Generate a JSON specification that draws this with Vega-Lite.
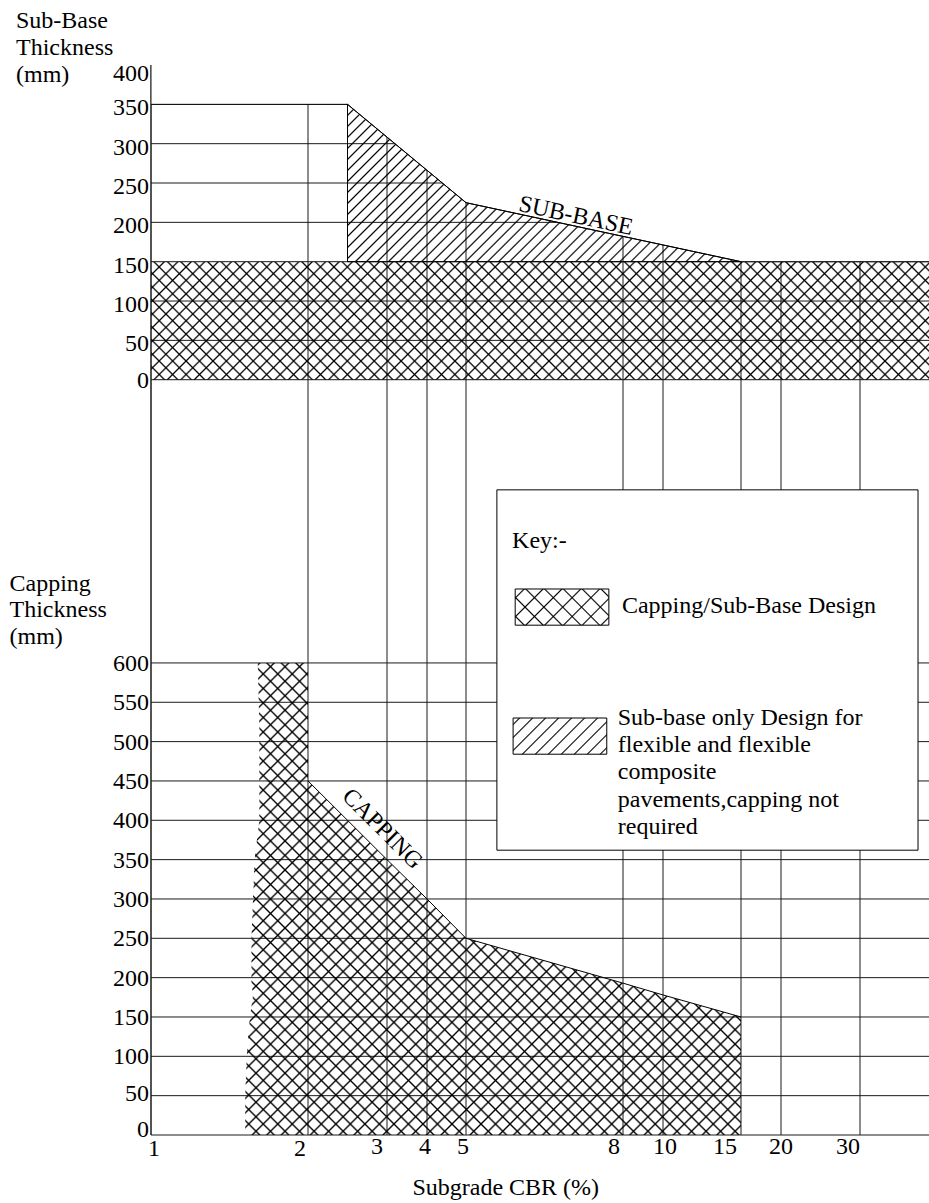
{
"$schema":"https://vega.github.io/schema/vega-lite/v6.json",
"width":778,"height":1070,
"autosize":{"type":"none"},
"padding":{"left":151,"top":65,"right":0,"bottom":68},
"background":"white",
"config":{
"view":{"stroke":null},
"font":"Liberation Serif",
"text":{"font":"Liberation Serif","fontSize":24,"color":"black"},
"axis":{"disable":true}
},
"datasets":{
"cbr_ticks":[{"cbr":1},{"cbr":2},{"cbr":3},{"cbr":4},{"cbr":5},{"cbr":8},{"cbr":10},{"cbr":15},{"cbr":20},{"cbr":30}],
"subbase_ticks":[{"mm":0},{"mm":50},{"mm":100},{"mm":150},{"mm":200},{"mm":250},{"mm":300},{"mm":350},{"mm":400}],
"capping_ticks":[{"mm":0},{"mm":50},{"mm":100},{"mm":150},{"mm":200},{"mm":250},{"mm":300},{"mm":350},{"mm":400},{"mm":450},{"mm":500},{"mm":550},{"mm":600}],
"capping_subbase_top":[{"zone":"Capping/Sub-Base Design","cbr":1,"cbr2":40,"mm":0,"mm2":150}],
"subbase_envelope":[{"cbr":1,"mm":350},{"cbr":2.5,"mm":350},{"cbr":5,"mm":225},{"cbr":15,"mm":150},{"cbr":40,"mm":150}],
"capping_zone":[
{"mm":600,"cbr":1.68,"cbr2":2},
{"mm":520,"cbr":1.69,"cbr2":2},
{"mm":450,"cbr":1.69,"cbr2":2},
{"mm":400,"cbr":1.69,"cbr2":2.5},
{"mm":350,"cbr":1.66,"cbr2":3},
{"mm":300,"cbr":1.65,"cbr2":4},
{"mm":250,"cbr":1.64,"cbr2":5},
{"mm":193,"cbr":1.64,"cbr2":8},
{"mm":178,"cbr":1.65,"cbr2":10},
{"mm":150,"cbr":1.63,"cbr2":15},
{"mm":100,"cbr":1.61,"cbr2":15},
{"mm":50,"cbr":1.6,"cbr2":15},
{"mm":0,"cbr":1.6,"cbr2":15}
]
},
"layer":[
{
"layer":[
{"data":{"name":"cbr_ticks"},"mark":{"type":"rule","color":"#1a1a1a","strokeWidth":1},"encoding":{
"x":{"field":"cbr","type":"quantitative","axis":null,"scale":{"type":"linear","domain":[1,2,3,4,5,8,10,15,20,30,40],"range":[0,157,236,276,315,472,512,590,630,709,778],"nice":false,"zero":false}},
"y":{"datum":-960,"axis":null},"y2":{"datum":400}}},
{"data":{"name":"subbase_ticks"},"transform":[{"filter":"datum.mm < 400"}],"mark":{"type":"rule","color":"#1a1a1a","strokeWidth":1},"encoding":{
"y":{"field":"mm","type":"quantitative","axis":null,"scale":{"domain":[-960,400],"nice":false,"zero":false}},
"x":{"datum":1,"axis":null},"x2":{"datum":40}}},
{"data":{"name":"subbase_ticks"},"mark":{"type":"text","font":"Liberation Serif","fontSize":24,"align":"right","baseline":"middle","dx":-2,"dy":{"expr":"datum.mm === 400 ? 9 : datum.mm === 0 ? 1 : 4"}},"encoding":{
"x":{"datum":1,"axis":null},"y":{"field":"mm","type":"quantitative","axis":null},"text":{"field":"mm","type":"quantitative","format":"d"}}},
{"data":{"values":[{}]},"mark":{"type":"text","text":"Sub-Base","font":"Liberation Serif","fontSize":24,"align":"left","baseline":"alphabetic","dx":-135},"encoding":{"x":{"datum":1,"axis":null},"y":{"datum":447,"axis":null}}},
{"data":{"values":[{}]},"mark":{"type":"text","text":"Thickness","font":"Liberation Serif","fontSize":24,"align":"left","baseline":"alphabetic","dx":-135},"encoding":{"x":{"datum":1,"axis":null},"y":{"datum":412.1,"axis":null}}},
{"data":{"values":[{}]},"mark":{"type":"text","text":"(mm)","font":"Liberation Serif","fontSize":24,"align":"left","baseline":"alphabetic","dx":-135},"encoding":{"x":{"datum":1,"axis":null},"y":{"datum":378.4,"axis":null}}},
{"data":{"name":"capping_subbase_top"},"mark":{"type":"rect","strokeWidth":0,"fill":{"gradient":"linear","x1":0,"y1":0,"x2":1.1258,"y2":0.1708,"stops":[
{"offset":0.013,"color":"transparent"},{"offset":0.015,"color":"black"},{"offset":0.017,"color":"transparent"},
{"offset":0.028,"color":"transparent"},{"offset":0.03,"color":"black"},{"offset":0.032,"color":"transparent"},
{"offset":0.043,"color":"transparent"},{"offset":0.045,"color":"black"},{"offset":0.047,"color":"transparent"},
{"offset":0.058,"color":"transparent"},{"offset":0.06,"color":"black"},{"offset":0.062,"color":"transparent"},
{"offset":0.073,"color":"transparent"},{"offset":0.075,"color":"black"},{"offset":0.077,"color":"transparent"},
{"offset":0.088,"color":"transparent"},{"offset":0.09,"color":"black"},{"offset":0.092,"color":"transparent"},
{"offset":0.103,"color":"transparent"},{"offset":0.105,"color":"black"},{"offset":0.107,"color":"transparent"},
{"offset":0.118,"color":"transparent"},{"offset":0.12,"color":"black"},{"offset":0.122,"color":"transparent"},
{"offset":0.133,"color":"transparent"},{"offset":0.135,"color":"black"},{"offset":0.137,"color":"transparent"},
{"offset":0.148,"color":"transparent"},{"offset":0.15,"color":"black"},{"offset":0.152,"color":"transparent"},
{"offset":0.163,"color":"transparent"},{"offset":0.165,"color":"black"},{"offset":0.167,"color":"transparent"},
{"offset":0.178,"color":"transparent"},{"offset":0.18,"color":"black"},{"offset":0.182,"color":"transparent"},
{"offset":0.193,"color":"transparent"},{"offset":0.195,"color":"black"},{"offset":0.197,"color":"transparent"},
{"offset":0.208,"color":"transparent"},{"offset":0.21,"color":"black"},{"offset":0.212,"color":"transparent"},
{"offset":0.223,"color":"transparent"},{"offset":0.225,"color":"black"},{"offset":0.227,"color":"transparent"},
{"offset":0.238,"color":"transparent"},{"offset":0.24,"color":"black"},{"offset":0.242,"color":"transparent"},
{"offset":0.253,"color":"transparent"},{"offset":0.255,"color":"black"},{"offset":0.257,"color":"transparent"},
{"offset":0.268,"color":"transparent"},{"offset":0.27,"color":"black"},{"offset":0.272,"color":"transparent"},
{"offset":0.283,"color":"transparent"},{"offset":0.285,"color":"black"},{"offset":0.287,"color":"transparent"},
{"offset":0.298,"color":"transparent"},{"offset":0.3,"color":"black"},{"offset":0.302,"color":"transparent"},
{"offset":0.313,"color":"transparent"},{"offset":0.315,"color":"black"},{"offset":0.317,"color":"transparent"},
{"offset":0.328,"color":"transparent"},{"offset":0.33,"color":"black"},{"offset":0.332,"color":"transparent"},
{"offset":0.343,"color":"transparent"},{"offset":0.345,"color":"black"},{"offset":0.347,"color":"transparent"},
{"offset":0.358,"color":"transparent"},{"offset":0.36,"color":"black"},{"offset":0.362,"color":"transparent"},
{"offset":0.373,"color":"transparent"},{"offset":0.375,"color":"black"},{"offset":0.377,"color":"transparent"},
{"offset":0.388,"color":"transparent"},{"offset":0.39,"color":"black"},{"offset":0.392,"color":"transparent"},
{"offset":0.403,"color":"transparent"},{"offset":0.405,"color":"black"},{"offset":0.407,"color":"transparent"},
{"offset":0.418,"color":"transparent"},{"offset":0.42,"color":"black"},{"offset":0.422,"color":"transparent"},
{"offset":0.433,"color":"transparent"},{"offset":0.435,"color":"black"},{"offset":0.437,"color":"transparent"},
{"offset":0.448,"color":"transparent"},{"offset":0.45,"color":"black"},{"offset":0.452,"color":"transparent"},
{"offset":0.463,"color":"transparent"},{"offset":0.465,"color":"black"},{"offset":0.467,"color":"transparent"},
{"offset":0.478,"color":"transparent"},{"offset":0.48,"color":"black"},{"offset":0.482,"color":"transparent"},
{"offset":0.493,"color":"transparent"},{"offset":0.495,"color":"black"},{"offset":0.497,"color":"transparent"},
{"offset":0.508,"color":"transparent"},{"offset":0.51,"color":"black"},{"offset":0.512,"color":"transparent"},
{"offset":0.523,"color":"transparent"},{"offset":0.525,"color":"black"},{"offset":0.527,"color":"transparent"},
{"offset":0.538,"color":"transparent"},{"offset":0.54,"color":"black"},{"offset":0.542,"color":"transparent"},
{"offset":0.553,"color":"transparent"},{"offset":0.555,"color":"black"},{"offset":0.557,"color":"transparent"},
{"offset":0.568,"color":"transparent"},{"offset":0.57,"color":"black"},{"offset":0.572,"color":"transparent"},
{"offset":0.583,"color":"transparent"},{"offset":0.585,"color":"black"},{"offset":0.587,"color":"transparent"},
{"offset":0.598,"color":"transparent"},{"offset":0.6,"color":"black"},{"offset":0.602,"color":"transparent"},
{"offset":0.613,"color":"transparent"},{"offset":0.615,"color":"black"},{"offset":0.617,"color":"transparent"},
{"offset":0.628,"color":"transparent"},{"offset":0.63,"color":"black"},{"offset":0.632,"color":"transparent"},
{"offset":0.643,"color":"transparent"},{"offset":0.645,"color":"black"},{"offset":0.647,"color":"transparent"},
{"offset":0.658,"color":"transparent"},{"offset":0.66,"color":"black"},{"offset":0.662,"color":"transparent"},
{"offset":0.673,"color":"transparent"},{"offset":0.675,"color":"black"},{"offset":0.677,"color":"transparent"},
{"offset":0.688,"color":"transparent"},{"offset":0.69,"color":"black"},{"offset":0.692,"color":"transparent"},
{"offset":0.703,"color":"transparent"},{"offset":0.705,"color":"black"},{"offset":0.707,"color":"transparent"},
{"offset":0.718,"color":"transparent"},{"offset":0.72,"color":"black"},{"offset":0.722,"color":"transparent"},
{"offset":0.733,"color":"transparent"},{"offset":0.735,"color":"black"},{"offset":0.737,"color":"transparent"},
{"offset":0.748,"color":"transparent"},{"offset":0.75,"color":"black"},{"offset":0.752,"color":"transparent"},
{"offset":0.763,"color":"transparent"},{"offset":0.765,"color":"black"},{"offset":0.767,"color":"transparent"},
{"offset":0.778,"color":"transparent"},{"offset":0.78,"color":"black"},{"offset":0.782,"color":"transparent"},
{"offset":0.793,"color":"transparent"},{"offset":0.795,"color":"black"},{"offset":0.797,"color":"transparent"},
{"offset":0.808,"color":"transparent"},{"offset":0.81,"color":"black"},{"offset":0.812,"color":"transparent"},
{"offset":0.823,"color":"transparent"},{"offset":0.825,"color":"black"},{"offset":0.827,"color":"transparent"},
{"offset":0.838,"color":"transparent"},{"offset":0.84,"color":"black"},{"offset":0.842,"color":"transparent"},
{"offset":0.853,"color":"transparent"},{"offset":0.855,"color":"black"},{"offset":0.857,"color":"transparent"},
{"offset":0.868,"color":"transparent"},{"offset":0.87,"color":"black"},{"offset":0.872,"color":"transparent"},
{"offset":0.883,"color":"transparent"},{"offset":0.885,"color":"black"},{"offset":0.887,"color":"transparent"},
{"offset":0.898,"color":"transparent"},{"offset":0.9,"color":"black"},{"offset":0.902,"color":"transparent"},
{"offset":0.913,"color":"transparent"},{"offset":0.915,"color":"black"},{"offset":0.917,"color":"transparent"},
{"offset":0.928,"color":"transparent"},{"offset":0.93,"color":"black"},{"offset":0.932,"color":"transparent"},
{"offset":0.943,"color":"transparent"},{"offset":0.945,"color":"black"},{"offset":0.947,"color":"transparent"},
{"offset":0.958,"color":"transparent"},{"offset":0.96,"color":"black"},{"offset":0.962,"color":"transparent"},
{"offset":0.973,"color":"transparent"},{"offset":0.975,"color":"black"},{"offset":0.977,"color":"transparent"},
{"offset":0.988,"color":"transparent"},{"offset":0.99,"color":"black"},{"offset":0.992,"color":"transparent"}
]}},"encoding":{"x":{"field":"cbr","type":"quantitative","axis":null},"x2":{"field":"cbr2"},"y":{"field":"mm","type":"quantitative","axis":null},"y2":{"field":"mm2"}}},
{"data":{"name":"capping_subbase_top"},"mark":{"type":"rect","strokeWidth":0,"fill":{"gradient":"linear","x1":0,"y1":1,"x2":1.1258,"y2":0.8292,"stops":[
{"offset":0.013,"color":"transparent"},{"offset":0.015,"color":"black"},{"offset":0.017,"color":"transparent"},
{"offset":0.028,"color":"transparent"},{"offset":0.03,"color":"black"},{"offset":0.032,"color":"transparent"},
{"offset":0.043,"color":"transparent"},{"offset":0.045,"color":"black"},{"offset":0.047,"color":"transparent"},
{"offset":0.058,"color":"transparent"},{"offset":0.06,"color":"black"},{"offset":0.062,"color":"transparent"},
{"offset":0.073,"color":"transparent"},{"offset":0.075,"color":"black"},{"offset":0.077,"color":"transparent"},
{"offset":0.088,"color":"transparent"},{"offset":0.09,"color":"black"},{"offset":0.092,"color":"transparent"},
{"offset":0.103,"color":"transparent"},{"offset":0.105,"color":"black"},{"offset":0.107,"color":"transparent"},
{"offset":0.118,"color":"transparent"},{"offset":0.12,"color":"black"},{"offset":0.122,"color":"transparent"},
{"offset":0.133,"color":"transparent"},{"offset":0.135,"color":"black"},{"offset":0.137,"color":"transparent"},
{"offset":0.148,"color":"transparent"},{"offset":0.15,"color":"black"},{"offset":0.152,"color":"transparent"},
{"offset":0.163,"color":"transparent"},{"offset":0.165,"color":"black"},{"offset":0.167,"color":"transparent"},
{"offset":0.178,"color":"transparent"},{"offset":0.18,"color":"black"},{"offset":0.182,"color":"transparent"},
{"offset":0.193,"color":"transparent"},{"offset":0.195,"color":"black"},{"offset":0.197,"color":"transparent"},
{"offset":0.208,"color":"transparent"},{"offset":0.21,"color":"black"},{"offset":0.212,"color":"transparent"},
{"offset":0.223,"color":"transparent"},{"offset":0.225,"color":"black"},{"offset":0.227,"color":"transparent"},
{"offset":0.238,"color":"transparent"},{"offset":0.24,"color":"black"},{"offset":0.242,"color":"transparent"},
{"offset":0.253,"color":"transparent"},{"offset":0.255,"color":"black"},{"offset":0.257,"color":"transparent"},
{"offset":0.268,"color":"transparent"},{"offset":0.27,"color":"black"},{"offset":0.272,"color":"transparent"},
{"offset":0.283,"color":"transparent"},{"offset":0.285,"color":"black"},{"offset":0.287,"color":"transparent"},
{"offset":0.298,"color":"transparent"},{"offset":0.3,"color":"black"},{"offset":0.302,"color":"transparent"},
{"offset":0.313,"color":"transparent"},{"offset":0.315,"color":"black"},{"offset":0.317,"color":"transparent"},
{"offset":0.328,"color":"transparent"},{"offset":0.33,"color":"black"},{"offset":0.332,"color":"transparent"},
{"offset":0.343,"color":"transparent"},{"offset":0.345,"color":"black"},{"offset":0.347,"color":"transparent"},
{"offset":0.358,"color":"transparent"},{"offset":0.36,"color":"black"},{"offset":0.362,"color":"transparent"},
{"offset":0.373,"color":"transparent"},{"offset":0.375,"color":"black"},{"offset":0.377,"color":"transparent"},
{"offset":0.388,"color":"transparent"},{"offset":0.39,"color":"black"},{"offset":0.392,"color":"transparent"},
{"offset":0.403,"color":"transparent"},{"offset":0.405,"color":"black"},{"offset":0.407,"color":"transparent"},
{"offset":0.418,"color":"transparent"},{"offset":0.42,"color":"black"},{"offset":0.422,"color":"transparent"},
{"offset":0.433,"color":"transparent"},{"offset":0.435,"color":"black"},{"offset":0.437,"color":"transparent"},
{"offset":0.448,"color":"transparent"},{"offset":0.45,"color":"black"},{"offset":0.452,"color":"transparent"},
{"offset":0.463,"color":"transparent"},{"offset":0.465,"color":"black"},{"offset":0.467,"color":"transparent"},
{"offset":0.478,"color":"transparent"},{"offset":0.48,"color":"black"},{"offset":0.482,"color":"transparent"},
{"offset":0.493,"color":"transparent"},{"offset":0.495,"color":"black"},{"offset":0.497,"color":"transparent"},
{"offset":0.508,"color":"transparent"},{"offset":0.51,"color":"black"},{"offset":0.512,"color":"transparent"},
{"offset":0.523,"color":"transparent"},{"offset":0.525,"color":"black"},{"offset":0.527,"color":"transparent"},
{"offset":0.538,"color":"transparent"},{"offset":0.54,"color":"black"},{"offset":0.542,"color":"transparent"},
{"offset":0.553,"color":"transparent"},{"offset":0.555,"color":"black"},{"offset":0.557,"color":"transparent"},
{"offset":0.568,"color":"transparent"},{"offset":0.57,"color":"black"},{"offset":0.572,"color":"transparent"},
{"offset":0.583,"color":"transparent"},{"offset":0.585,"color":"black"},{"offset":0.587,"color":"transparent"},
{"offset":0.598,"color":"transparent"},{"offset":0.6,"color":"black"},{"offset":0.602,"color":"transparent"},
{"offset":0.613,"color":"transparent"},{"offset":0.615,"color":"black"},{"offset":0.617,"color":"transparent"},
{"offset":0.628,"color":"transparent"},{"offset":0.63,"color":"black"},{"offset":0.632,"color":"transparent"},
{"offset":0.643,"color":"transparent"},{"offset":0.645,"color":"black"},{"offset":0.647,"color":"transparent"},
{"offset":0.658,"color":"transparent"},{"offset":0.66,"color":"black"},{"offset":0.662,"color":"transparent"},
{"offset":0.673,"color":"transparent"},{"offset":0.675,"color":"black"},{"offset":0.677,"color":"transparent"},
{"offset":0.688,"color":"transparent"},{"offset":0.69,"color":"black"},{"offset":0.692,"color":"transparent"},
{"offset":0.703,"color":"transparent"},{"offset":0.705,"color":"black"},{"offset":0.707,"color":"transparent"},
{"offset":0.718,"color":"transparent"},{"offset":0.72,"color":"black"},{"offset":0.722,"color":"transparent"},
{"offset":0.733,"color":"transparent"},{"offset":0.735,"color":"black"},{"offset":0.737,"color":"transparent"},
{"offset":0.748,"color":"transparent"},{"offset":0.75,"color":"black"},{"offset":0.752,"color":"transparent"},
{"offset":0.763,"color":"transparent"},{"offset":0.765,"color":"black"},{"offset":0.767,"color":"transparent"},
{"offset":0.778,"color":"transparent"},{"offset":0.78,"color":"black"},{"offset":0.782,"color":"transparent"},
{"offset":0.793,"color":"transparent"},{"offset":0.795,"color":"black"},{"offset":0.797,"color":"transparent"},
{"offset":0.808,"color":"transparent"},{"offset":0.81,"color":"black"},{"offset":0.812,"color":"transparent"},
{"offset":0.823,"color":"transparent"},{"offset":0.825,"color":"black"},{"offset":0.827,"color":"transparent"},
{"offset":0.838,"color":"transparent"},{"offset":0.84,"color":"black"},{"offset":0.842,"color":"transparent"},
{"offset":0.853,"color":"transparent"},{"offset":0.855,"color":"black"},{"offset":0.857,"color":"transparent"},
{"offset":0.868,"color":"transparent"},{"offset":0.87,"color":"black"},{"offset":0.872,"color":"transparent"},
{"offset":0.883,"color":"transparent"},{"offset":0.885,"color":"black"},{"offset":0.887,"color":"transparent"},
{"offset":0.898,"color":"transparent"},{"offset":0.9,"color":"black"},{"offset":0.902,"color":"transparent"},
{"offset":0.913,"color":"transparent"},{"offset":0.915,"color":"black"},{"offset":0.917,"color":"transparent"},
{"offset":0.928,"color":"transparent"},{"offset":0.93,"color":"black"},{"offset":0.932,"color":"transparent"},
{"offset":0.943,"color":"transparent"},{"offset":0.945,"color":"black"},{"offset":0.947,"color":"transparent"},
{"offset":0.958,"color":"transparent"},{"offset":0.96,"color":"black"},{"offset":0.962,"color":"transparent"},
{"offset":0.973,"color":"transparent"},{"offset":0.975,"color":"black"},{"offset":0.977,"color":"transparent"},
{"offset":0.988,"color":"transparent"},{"offset":0.99,"color":"black"},{"offset":0.992,"color":"transparent"}
]}},"encoding":{"x":{"field":"cbr","type":"quantitative","axis":null},"x2":{"field":"cbr2"},"y":{"field":"mm","type":"quantitative","axis":null},"y2":{"field":"mm2"}}},
{"data":{"name":"subbase_envelope"},"mark":{"type":"area","fill":"white","strokeWidth":0},"encoding":{"x":{"field":"cbr","type":"quantitative","axis":null},"y":{"field":"mm","type":"quantitative","axis":null},"y2":{"datum":400}}},
{"data":{"name":"subbase_envelope"},"transform":[{"filter":"datum.cbr >= 2.5 && datum.cbr <= 15"}],"mark":{"type":"area","stroke":"black","strokeWidth":1,"fill":{"gradient":"linear","x1":0,"y1":0,"x2":1.2069,"y2":0.4826,"stops":[
{"offset":0.017,"color":"transparent"},{"offset":0.02,"color":"black"},{"offset":0.023,"color":"transparent"},
{"offset":0.037,"color":"transparent"},{"offset":0.04,"color":"black"},{"offset":0.043,"color":"transparent"},
{"offset":0.057,"color":"transparent"},{"offset":0.06,"color":"black"},{"offset":0.063,"color":"transparent"},
{"offset":0.077,"color":"transparent"},{"offset":0.08,"color":"black"},{"offset":0.083,"color":"transparent"},
{"offset":0.097,"color":"transparent"},{"offset":0.1,"color":"black"},{"offset":0.103,"color":"transparent"},
{"offset":0.117,"color":"transparent"},{"offset":0.12,"color":"black"},{"offset":0.123,"color":"transparent"},
{"offset":0.137,"color":"transparent"},{"offset":0.14,"color":"black"},{"offset":0.143,"color":"transparent"},
{"offset":0.157,"color":"transparent"},{"offset":0.16,"color":"black"},{"offset":0.163,"color":"transparent"},
{"offset":0.177,"color":"transparent"},{"offset":0.18,"color":"black"},{"offset":0.183,"color":"transparent"},
{"offset":0.197,"color":"transparent"},{"offset":0.2,"color":"black"},{"offset":0.203,"color":"transparent"},
{"offset":0.217,"color":"transparent"},{"offset":0.22,"color":"black"},{"offset":0.223,"color":"transparent"},
{"offset":0.237,"color":"transparent"},{"offset":0.24,"color":"black"},{"offset":0.243,"color":"transparent"},
{"offset":0.257,"color":"transparent"},{"offset":0.26,"color":"black"},{"offset":0.263,"color":"transparent"},
{"offset":0.277,"color":"transparent"},{"offset":0.28,"color":"black"},{"offset":0.283,"color":"transparent"},
{"offset":0.297,"color":"transparent"},{"offset":0.3,"color":"black"},{"offset":0.303,"color":"transparent"},
{"offset":0.317,"color":"transparent"},{"offset":0.32,"color":"black"},{"offset":0.323,"color":"transparent"},
{"offset":0.337,"color":"transparent"},{"offset":0.34,"color":"black"},{"offset":0.343,"color":"transparent"},
{"offset":0.357,"color":"transparent"},{"offset":0.36,"color":"black"},{"offset":0.363,"color":"transparent"},
{"offset":0.377,"color":"transparent"},{"offset":0.38,"color":"black"},{"offset":0.383,"color":"transparent"},
{"offset":0.397,"color":"transparent"},{"offset":0.4,"color":"black"},{"offset":0.403,"color":"transparent"},
{"offset":0.417,"color":"transparent"},{"offset":0.42,"color":"black"},{"offset":0.423,"color":"transparent"},
{"offset":0.437,"color":"transparent"},{"offset":0.44,"color":"black"},{"offset":0.443,"color":"transparent"},
{"offset":0.457,"color":"transparent"},{"offset":0.46,"color":"black"},{"offset":0.463,"color":"transparent"},
{"offset":0.477,"color":"transparent"},{"offset":0.48,"color":"black"},{"offset":0.483,"color":"transparent"},
{"offset":0.497,"color":"transparent"},{"offset":0.5,"color":"black"},{"offset":0.503,"color":"transparent"},
{"offset":0.517,"color":"transparent"},{"offset":0.52,"color":"black"},{"offset":0.523,"color":"transparent"},
{"offset":0.537,"color":"transparent"},{"offset":0.54,"color":"black"},{"offset":0.543,"color":"transparent"},
{"offset":0.557,"color":"transparent"},{"offset":0.56,"color":"black"},{"offset":0.563,"color":"transparent"},
{"offset":0.577,"color":"transparent"},{"offset":0.58,"color":"black"},{"offset":0.583,"color":"transparent"},
{"offset":0.597,"color":"transparent"},{"offset":0.6,"color":"black"},{"offset":0.603,"color":"transparent"},
{"offset":0.617,"color":"transparent"},{"offset":0.62,"color":"black"},{"offset":0.623,"color":"transparent"},
{"offset":0.637,"color":"transparent"},{"offset":0.64,"color":"black"},{"offset":0.643,"color":"transparent"},
{"offset":0.657,"color":"transparent"},{"offset":0.66,"color":"black"},{"offset":0.663,"color":"transparent"},
{"offset":0.677,"color":"transparent"},{"offset":0.68,"color":"black"},{"offset":0.683,"color":"transparent"},
{"offset":0.697,"color":"transparent"},{"offset":0.7,"color":"black"},{"offset":0.703,"color":"transparent"},
{"offset":0.717,"color":"transparent"},{"offset":0.72,"color":"black"},{"offset":0.723,"color":"transparent"},
{"offset":0.737,"color":"transparent"},{"offset":0.74,"color":"black"},{"offset":0.743,"color":"transparent"},
{"offset":0.757,"color":"transparent"},{"offset":0.76,"color":"black"},{"offset":0.763,"color":"transparent"},
{"offset":0.777,"color":"transparent"},{"offset":0.78,"color":"black"},{"offset":0.783,"color":"transparent"},
{"offset":0.797,"color":"transparent"},{"offset":0.8,"color":"black"},{"offset":0.803,"color":"transparent"},
{"offset":0.817,"color":"transparent"},{"offset":0.82,"color":"black"},{"offset":0.823,"color":"transparent"},
{"offset":0.837,"color":"transparent"},{"offset":0.84,"color":"black"},{"offset":0.843,"color":"transparent"},
{"offset":0.857,"color":"transparent"},{"offset":0.86,"color":"black"},{"offset":0.863,"color":"transparent"},
{"offset":0.877,"color":"transparent"},{"offset":0.88,"color":"black"},{"offset":0.883,"color":"transparent"},
{"offset":0.897,"color":"transparent"},{"offset":0.9,"color":"black"},{"offset":0.903,"color":"transparent"},
{"offset":0.917,"color":"transparent"},{"offset":0.92,"color":"black"},{"offset":0.923,"color":"transparent"},
{"offset":0.937,"color":"transparent"},{"offset":0.94,"color":"black"},{"offset":0.943,"color":"transparent"},
{"offset":0.957,"color":"transparent"},{"offset":0.96,"color":"black"},{"offset":0.963,"color":"transparent"},
{"offset":0.977,"color":"transparent"},{"offset":0.98,"color":"black"},{"offset":0.983,"color":"transparent"}
]}},"encoding":{"x":{"field":"cbr","type":"quantitative","axis":null},"y":{"field":"mm","type":"quantitative","axis":null},"y2":{"datum":150}}},
{"data":{"name":"subbase_envelope"},"mark":{"type":"line","color":"black","strokeWidth":1},"encoding":{"x":{"field":"cbr","type":"quantitative","axis":null},"y":{"field":"mm","type":"quantitative","axis":null}}},
{"data":{"values":[{}]},"mark":{"type":"text","text":"SUB-BASE","font":"Liberation Serif","fontSize":24,"angle":12,"align":"center","baseline":"middle"},"encoding":{"x":{"datum":7.1,"axis":null},"y":{"datum":208,"axis":null}}}
]
},
{
"layer":[
{"data":{"name":"capping_ticks"},"mark":{"type":"rule","color":"#1a1a1a","strokeWidth":1},"encoding":{
"y":{"field":"mm","type":"quantitative","axis":null,"scale":{"domain":[0,1360],"nice":false,"zero":false}},
"x":{"datum":1,"axis":null},"x2":{"datum":40}}},
{"data":{"name":"capping_ticks"},"mark":{"type":"text","font":"Liberation Serif","fontSize":24,"align":"right","baseline":"middle","dx":-2,"dy":{"expr":"datum.mm === 0 ? -5 : datum.mm === 50 ? -2 : 1"}},"encoding":{
"x":{"datum":1,"axis":null},"y":{"field":"mm","type":"quantitative","axis":null},"text":{"field":"mm","type":"quantitative","format":"d"}}},
{"data":{"values":[{}]},"mark":{"type":"text","text":"Capping","font":"Liberation Serif","fontSize":24,"align":"left","baseline":"alphabetic","dx":-141.5},"encoding":{"x":{"datum":1,"axis":null},"y":{"datum":691.8,"axis":null}}},
{"data":{"values":[{}]},"mark":{"type":"text","text":"Thickness","font":"Liberation Serif","fontSize":24,"align":"left","baseline":"alphabetic","dx":-141.5},"encoding":{"x":{"datum":1,"axis":null},"y":{"datum":658,"axis":null}}},
{"data":{"values":[{}]},"mark":{"type":"text","text":"(mm)","font":"Liberation Serif","fontSize":24,"align":"left","baseline":"alphabetic","dx":-141.5},"encoding":{"x":{"datum":1,"axis":null},"y":{"datum":624.1,"axis":null}}},
{"data":{"name":"cbr_ticks"},"mark":{"type":"text","font":"Liberation Serif","fontSize":24,"align":"center","baseline":"top",
"dx":{"expr":"datum.cbr === 1 ? 3 : datum.cbr === 2 ? -8 : datum.cbr === 3 ? -10 : datum.cbr === 4 ? -2 : datum.cbr === 5 ? -3 : datum.cbr === 8 ? -9 : datum.cbr === 10 ? 2 : datum.cbr === 15 ? -16 : datum.cbr === 30 ? -12 : 0"},
"dy":{"expr":"datum.cbr <= 2 ? 2 : 0"}},"encoding":{
"x":{"field":"cbr","type":"quantitative","axis":null},"y":{"datum":0,"axis":null},"text":{"field":"cbr","type":"quantitative","format":"d"}}},
{"data":{"values":[{}]},"mark":{"type":"text","text":"Subgrade CBR (%)","font":"Liberation Serif","fontSize":24,"align":"center","baseline":"alphabetic","dy":60},"encoding":{"x":{"datum":5.76,"axis":null},"y":{"datum":0,"axis":null}}},
{"data":{"name":"capping_zone"},"mark":{"type":"area","orient":"horizontal","strokeWidth":0,"fill":{"gradient":"linear","x1":0,"y1":0,"x2":1.0239,"y2":0.9749,"stops":[
{"offset":0.013,"color":"transparent"},{"offset":0.015,"color":"black"},{"offset":0.017,"color":"transparent"},
{"offset":0.028,"color":"transparent"},{"offset":0.03,"color":"black"},{"offset":0.032,"color":"transparent"},
{"offset":0.043,"color":"transparent"},{"offset":0.045,"color":"black"},{"offset":0.047,"color":"transparent"},
{"offset":0.058,"color":"transparent"},{"offset":0.06,"color":"black"},{"offset":0.062,"color":"transparent"},
{"offset":0.073,"color":"transparent"},{"offset":0.075,"color":"black"},{"offset":0.077,"color":"transparent"},
{"offset":0.088,"color":"transparent"},{"offset":0.09,"color":"black"},{"offset":0.092,"color":"transparent"},
{"offset":0.103,"color":"transparent"},{"offset":0.105,"color":"black"},{"offset":0.107,"color":"transparent"},
{"offset":0.118,"color":"transparent"},{"offset":0.12,"color":"black"},{"offset":0.122,"color":"transparent"},
{"offset":0.133,"color":"transparent"},{"offset":0.135,"color":"black"},{"offset":0.137,"color":"transparent"},
{"offset":0.148,"color":"transparent"},{"offset":0.15,"color":"black"},{"offset":0.152,"color":"transparent"},
{"offset":0.163,"color":"transparent"},{"offset":0.165,"color":"black"},{"offset":0.167,"color":"transparent"},
{"offset":0.178,"color":"transparent"},{"offset":0.18,"color":"black"},{"offset":0.182,"color":"transparent"},
{"offset":0.193,"color":"transparent"},{"offset":0.195,"color":"black"},{"offset":0.197,"color":"transparent"},
{"offset":0.208,"color":"transparent"},{"offset":0.21,"color":"black"},{"offset":0.212,"color":"transparent"},
{"offset":0.223,"color":"transparent"},{"offset":0.225,"color":"black"},{"offset":0.227,"color":"transparent"},
{"offset":0.238,"color":"transparent"},{"offset":0.24,"color":"black"},{"offset":0.242,"color":"transparent"},
{"offset":0.253,"color":"transparent"},{"offset":0.255,"color":"black"},{"offset":0.257,"color":"transparent"},
{"offset":0.268,"color":"transparent"},{"offset":0.27,"color":"black"},{"offset":0.272,"color":"transparent"},
{"offset":0.283,"color":"transparent"},{"offset":0.285,"color":"black"},{"offset":0.287,"color":"transparent"},
{"offset":0.298,"color":"transparent"},{"offset":0.3,"color":"black"},{"offset":0.302,"color":"transparent"},
{"offset":0.313,"color":"transparent"},{"offset":0.315,"color":"black"},{"offset":0.317,"color":"transparent"},
{"offset":0.328,"color":"transparent"},{"offset":0.33,"color":"black"},{"offset":0.332,"color":"transparent"},
{"offset":0.343,"color":"transparent"},{"offset":0.345,"color":"black"},{"offset":0.347,"color":"transparent"},
{"offset":0.358,"color":"transparent"},{"offset":0.36,"color":"black"},{"offset":0.362,"color":"transparent"},
{"offset":0.373,"color":"transparent"},{"offset":0.375,"color":"black"},{"offset":0.377,"color":"transparent"},
{"offset":0.388,"color":"transparent"},{"offset":0.39,"color":"black"},{"offset":0.392,"color":"transparent"},
{"offset":0.403,"color":"transparent"},{"offset":0.405,"color":"black"},{"offset":0.407,"color":"transparent"},
{"offset":0.418,"color":"transparent"},{"offset":0.42,"color":"black"},{"offset":0.422,"color":"transparent"},
{"offset":0.433,"color":"transparent"},{"offset":0.435,"color":"black"},{"offset":0.437,"color":"transparent"},
{"offset":0.448,"color":"transparent"},{"offset":0.45,"color":"black"},{"offset":0.452,"color":"transparent"},
{"offset":0.463,"color":"transparent"},{"offset":0.465,"color":"black"},{"offset":0.467,"color":"transparent"},
{"offset":0.478,"color":"transparent"},{"offset":0.48,"color":"black"},{"offset":0.482,"color":"transparent"},
{"offset":0.493,"color":"transparent"},{"offset":0.495,"color":"black"},{"offset":0.497,"color":"transparent"},
{"offset":0.508,"color":"transparent"},{"offset":0.51,"color":"black"},{"offset":0.512,"color":"transparent"},
{"offset":0.523,"color":"transparent"},{"offset":0.525,"color":"black"},{"offset":0.527,"color":"transparent"},
{"offset":0.538,"color":"transparent"},{"offset":0.54,"color":"black"},{"offset":0.542,"color":"transparent"},
{"offset":0.553,"color":"transparent"},{"offset":0.555,"color":"black"},{"offset":0.557,"color":"transparent"},
{"offset":0.568,"color":"transparent"},{"offset":0.57,"color":"black"},{"offset":0.572,"color":"transparent"},
{"offset":0.583,"color":"transparent"},{"offset":0.585,"color":"black"},{"offset":0.587,"color":"transparent"},
{"offset":0.598,"color":"transparent"},{"offset":0.6,"color":"black"},{"offset":0.602,"color":"transparent"},
{"offset":0.613,"color":"transparent"},{"offset":0.615,"color":"black"},{"offset":0.617,"color":"transparent"},
{"offset":0.628,"color":"transparent"},{"offset":0.63,"color":"black"},{"offset":0.632,"color":"transparent"},
{"offset":0.643,"color":"transparent"},{"offset":0.645,"color":"black"},{"offset":0.647,"color":"transparent"},
{"offset":0.658,"color":"transparent"},{"offset":0.66,"color":"black"},{"offset":0.662,"color":"transparent"},
{"offset":0.673,"color":"transparent"},{"offset":0.675,"color":"black"},{"offset":0.677,"color":"transparent"},
{"offset":0.688,"color":"transparent"},{"offset":0.69,"color":"black"},{"offset":0.692,"color":"transparent"},
{"offset":0.703,"color":"transparent"},{"offset":0.705,"color":"black"},{"offset":0.707,"color":"transparent"},
{"offset":0.718,"color":"transparent"},{"offset":0.72,"color":"black"},{"offset":0.722,"color":"transparent"},
{"offset":0.733,"color":"transparent"},{"offset":0.735,"color":"black"},{"offset":0.737,"color":"transparent"},
{"offset":0.748,"color":"transparent"},{"offset":0.75,"color":"black"},{"offset":0.752,"color":"transparent"},
{"offset":0.763,"color":"transparent"},{"offset":0.765,"color":"black"},{"offset":0.767,"color":"transparent"},
{"offset":0.778,"color":"transparent"},{"offset":0.78,"color":"black"},{"offset":0.782,"color":"transparent"},
{"offset":0.793,"color":"transparent"},{"offset":0.795,"color":"black"},{"offset":0.797,"color":"transparent"},
{"offset":0.808,"color":"transparent"},{"offset":0.81,"color":"black"},{"offset":0.812,"color":"transparent"},
{"offset":0.823,"color":"transparent"},{"offset":0.825,"color":"black"},{"offset":0.827,"color":"transparent"},
{"offset":0.838,"color":"transparent"},{"offset":0.84,"color":"black"},{"offset":0.842,"color":"transparent"},
{"offset":0.853,"color":"transparent"},{"offset":0.855,"color":"black"},{"offset":0.857,"color":"transparent"},
{"offset":0.868,"color":"transparent"},{"offset":0.87,"color":"black"},{"offset":0.872,"color":"transparent"},
{"offset":0.883,"color":"transparent"},{"offset":0.885,"color":"black"},{"offset":0.887,"color":"transparent"},
{"offset":0.898,"color":"transparent"},{"offset":0.9,"color":"black"},{"offset":0.902,"color":"transparent"},
{"offset":0.913,"color":"transparent"},{"offset":0.915,"color":"black"},{"offset":0.917,"color":"transparent"},
{"offset":0.928,"color":"transparent"},{"offset":0.93,"color":"black"},{"offset":0.932,"color":"transparent"},
{"offset":0.943,"color":"transparent"},{"offset":0.945,"color":"black"},{"offset":0.947,"color":"transparent"},
{"offset":0.958,"color":"transparent"},{"offset":0.96,"color":"black"},{"offset":0.962,"color":"transparent"},
{"offset":0.973,"color":"transparent"},{"offset":0.975,"color":"black"},{"offset":0.977,"color":"transparent"},
{"offset":0.988,"color":"transparent"},{"offset":0.99,"color":"black"},{"offset":0.992,"color":"transparent"}
]}},"encoding":{"x":{"field":"cbr","type":"quantitative","axis":null},"x2":{"field":"cbr2"},"y":{"field":"mm","type":"quantitative","axis":null}}},
{"data":{"name":"capping_zone"},"mark":{"type":"area","orient":"horizontal","strokeWidth":0,"fill":{"gradient":"linear","x1":0,"y1":1,"x2":1.0239,"y2":0.0251,"stops":[
{"offset":0.013,"color":"transparent"},{"offset":0.015,"color":"black"},{"offset":0.017,"color":"transparent"},
{"offset":0.028,"color":"transparent"},{"offset":0.03,"color":"black"},{"offset":0.032,"color":"transparent"},
{"offset":0.043,"color":"transparent"},{"offset":0.045,"color":"black"},{"offset":0.047,"color":"transparent"},
{"offset":0.058,"color":"transparent"},{"offset":0.06,"color":"black"},{"offset":0.062,"color":"transparent"},
{"offset":0.073,"color":"transparent"},{"offset":0.075,"color":"black"},{"offset":0.077,"color":"transparent"},
{"offset":0.088,"color":"transparent"},{"offset":0.09,"color":"black"},{"offset":0.092,"color":"transparent"},
{"offset":0.103,"color":"transparent"},{"offset":0.105,"color":"black"},{"offset":0.107,"color":"transparent"},
{"offset":0.118,"color":"transparent"},{"offset":0.12,"color":"black"},{"offset":0.122,"color":"transparent"},
{"offset":0.133,"color":"transparent"},{"offset":0.135,"color":"black"},{"offset":0.137,"color":"transparent"},
{"offset":0.148,"color":"transparent"},{"offset":0.15,"color":"black"},{"offset":0.152,"color":"transparent"},
{"offset":0.163,"color":"transparent"},{"offset":0.165,"color":"black"},{"offset":0.167,"color":"transparent"},
{"offset":0.178,"color":"transparent"},{"offset":0.18,"color":"black"},{"offset":0.182,"color":"transparent"},
{"offset":0.193,"color":"transparent"},{"offset":0.195,"color":"black"},{"offset":0.197,"color":"transparent"},
{"offset":0.208,"color":"transparent"},{"offset":0.21,"color":"black"},{"offset":0.212,"color":"transparent"},
{"offset":0.223,"color":"transparent"},{"offset":0.225,"color":"black"},{"offset":0.227,"color":"transparent"},
{"offset":0.238,"color":"transparent"},{"offset":0.24,"color":"black"},{"offset":0.242,"color":"transparent"},
{"offset":0.253,"color":"transparent"},{"offset":0.255,"color":"black"},{"offset":0.257,"color":"transparent"},
{"offset":0.268,"color":"transparent"},{"offset":0.27,"color":"black"},{"offset":0.272,"color":"transparent"},
{"offset":0.283,"color":"transparent"},{"offset":0.285,"color":"black"},{"offset":0.287,"color":"transparent"},
{"offset":0.298,"color":"transparent"},{"offset":0.3,"color":"black"},{"offset":0.302,"color":"transparent"},
{"offset":0.313,"color":"transparent"},{"offset":0.315,"color":"black"},{"offset":0.317,"color":"transparent"},
{"offset":0.328,"color":"transparent"},{"offset":0.33,"color":"black"},{"offset":0.332,"color":"transparent"},
{"offset":0.343,"color":"transparent"},{"offset":0.345,"color":"black"},{"offset":0.347,"color":"transparent"},
{"offset":0.358,"color":"transparent"},{"offset":0.36,"color":"black"},{"offset":0.362,"color":"transparent"},
{"offset":0.373,"color":"transparent"},{"offset":0.375,"color":"black"},{"offset":0.377,"color":"transparent"},
{"offset":0.388,"color":"transparent"},{"offset":0.39,"color":"black"},{"offset":0.392,"color":"transparent"},
{"offset":0.403,"color":"transparent"},{"offset":0.405,"color":"black"},{"offset":0.407,"color":"transparent"},
{"offset":0.418,"color":"transparent"},{"offset":0.42,"color":"black"},{"offset":0.422,"color":"transparent"},
{"offset":0.433,"color":"transparent"},{"offset":0.435,"color":"black"},{"offset":0.437,"color":"transparent"},
{"offset":0.448,"color":"transparent"},{"offset":0.45,"color":"black"},{"offset":0.452,"color":"transparent"},
{"offset":0.463,"color":"transparent"},{"offset":0.465,"color":"black"},{"offset":0.467,"color":"transparent"},
{"offset":0.478,"color":"transparent"},{"offset":0.48,"color":"black"},{"offset":0.482,"color":"transparent"},
{"offset":0.493,"color":"transparent"},{"offset":0.495,"color":"black"},{"offset":0.497,"color":"transparent"},
{"offset":0.508,"color":"transparent"},{"offset":0.51,"color":"black"},{"offset":0.512,"color":"transparent"},
{"offset":0.523,"color":"transparent"},{"offset":0.525,"color":"black"},{"offset":0.527,"color":"transparent"},
{"offset":0.538,"color":"transparent"},{"offset":0.54,"color":"black"},{"offset":0.542,"color":"transparent"},
{"offset":0.553,"color":"transparent"},{"offset":0.555,"color":"black"},{"offset":0.557,"color":"transparent"},
{"offset":0.568,"color":"transparent"},{"offset":0.57,"color":"black"},{"offset":0.572,"color":"transparent"},
{"offset":0.583,"color":"transparent"},{"offset":0.585,"color":"black"},{"offset":0.587,"color":"transparent"},
{"offset":0.598,"color":"transparent"},{"offset":0.6,"color":"black"},{"offset":0.602,"color":"transparent"},
{"offset":0.613,"color":"transparent"},{"offset":0.615,"color":"black"},{"offset":0.617,"color":"transparent"},
{"offset":0.628,"color":"transparent"},{"offset":0.63,"color":"black"},{"offset":0.632,"color":"transparent"},
{"offset":0.643,"color":"transparent"},{"offset":0.645,"color":"black"},{"offset":0.647,"color":"transparent"},
{"offset":0.658,"color":"transparent"},{"offset":0.66,"color":"black"},{"offset":0.662,"color":"transparent"},
{"offset":0.673,"color":"transparent"},{"offset":0.675,"color":"black"},{"offset":0.677,"color":"transparent"},
{"offset":0.688,"color":"transparent"},{"offset":0.69,"color":"black"},{"offset":0.692,"color":"transparent"},
{"offset":0.703,"color":"transparent"},{"offset":0.705,"color":"black"},{"offset":0.707,"color":"transparent"},
{"offset":0.718,"color":"transparent"},{"offset":0.72,"color":"black"},{"offset":0.722,"color":"transparent"},
{"offset":0.733,"color":"transparent"},{"offset":0.735,"color":"black"},{"offset":0.737,"color":"transparent"},
{"offset":0.748,"color":"transparent"},{"offset":0.75,"color":"black"},{"offset":0.752,"color":"transparent"},
{"offset":0.763,"color":"transparent"},{"offset":0.765,"color":"black"},{"offset":0.767,"color":"transparent"},
{"offset":0.778,"color":"transparent"},{"offset":0.78,"color":"black"},{"offset":0.782,"color":"transparent"},
{"offset":0.793,"color":"transparent"},{"offset":0.795,"color":"black"},{"offset":0.797,"color":"transparent"},
{"offset":0.808,"color":"transparent"},{"offset":0.81,"color":"black"},{"offset":0.812,"color":"transparent"},
{"offset":0.823,"color":"transparent"},{"offset":0.825,"color":"black"},{"offset":0.827,"color":"transparent"},
{"offset":0.838,"color":"transparent"},{"offset":0.84,"color":"black"},{"offset":0.842,"color":"transparent"},
{"offset":0.853,"color":"transparent"},{"offset":0.855,"color":"black"},{"offset":0.857,"color":"transparent"},
{"offset":0.868,"color":"transparent"},{"offset":0.87,"color":"black"},{"offset":0.872,"color":"transparent"},
{"offset":0.883,"color":"transparent"},{"offset":0.885,"color":"black"},{"offset":0.887,"color":"transparent"},
{"offset":0.898,"color":"transparent"},{"offset":0.9,"color":"black"},{"offset":0.902,"color":"transparent"},
{"offset":0.913,"color":"transparent"},{"offset":0.915,"color":"black"},{"offset":0.917,"color":"transparent"},
{"offset":0.928,"color":"transparent"},{"offset":0.93,"color":"black"},{"offset":0.932,"color":"transparent"},
{"offset":0.943,"color":"transparent"},{"offset":0.945,"color":"black"},{"offset":0.947,"color":"transparent"},
{"offset":0.958,"color":"transparent"},{"offset":0.96,"color":"black"},{"offset":0.962,"color":"transparent"},
{"offset":0.973,"color":"transparent"},{"offset":0.975,"color":"black"},{"offset":0.977,"color":"transparent"},
{"offset":0.988,"color":"transparent"},{"offset":0.99,"color":"black"},{"offset":0.992,"color":"transparent"}
]}},"encoding":{"x":{"field":"cbr","type":"quantitative","axis":null},"x2":{"field":"cbr2"},"y":{"field":"mm","type":"quantitative","axis":null}}},
{"data":{"name":"capping_zone"},"transform":[{"filter":"datum.mm <= 450 && datum.mm >= 150"}],"mark":{"type":"line","color":"black","strokeWidth":1},"encoding":{"x":{"field":"cbr2","type":"quantitative","axis":null},"y":{"field":"mm","type":"quantitative","axis":null}}},
{"data":{"values":[{}]},"mark":{"type":"text","text":"CAPPING","font":"Liberation Serif","fontSize":24,"angle":45,"align":"center","baseline":"middle"},"encoding":{"x":{"datum":2.94,"axis":null},"y":{"datum":389,"axis":null}}},
{"data":{"values":[{}]},"mark":{"type":"rect","fill":"white","stroke":"black","strokeWidth":1},"encoding":{"x":{"datum":5.59,"axis":null},"x2":{"datum":38.41},"y":{"datum":820,"axis":null},"y2":{"datum":362}}},
{"data":{"values":[{}]},"mark":{"type":"text","text":"Key:-","font":"Liberation Serif","fontSize":24,"align":"left","baseline":"alphabetic"},"encoding":{"x":{"datum":5.88,"axis":null},"y":{"datum":746,"axis":null}}},
{"data":{"values":[{}]},"mark":{"type":"rect","strokeWidth":0,"fill":{"gradient":"linear","x1":0,"y1":0,"x2":1.2063,"y2":0.466,"stops":[
{"offset":0.058,"color":"transparent"},{"offset":0.07,"color":"black"},{"offset":0.082,"color":"transparent"},
{"offset":0.203,"color":"transparent"},{"offset":0.215,"color":"black"},{"offset":0.227,"color":"transparent"},
{"offset":0.348,"color":"transparent"},{"offset":0.36,"color":"black"},{"offset":0.372,"color":"transparent"},
{"offset":0.493,"color":"transparent"},{"offset":0.505,"color":"black"},{"offset":0.517,"color":"transparent"},
{"offset":0.638,"color":"transparent"},{"offset":0.65,"color":"black"},{"offset":0.662,"color":"transparent"},
{"offset":0.783,"color":"transparent"},{"offset":0.795,"color":"black"},{"offset":0.807,"color":"transparent"},
{"offset":0.928,"color":"transparent"},{"offset":0.94,"color":"black"},{"offset":0.952,"color":"transparent"}
]}},"encoding":{"x":{"datum":5.94,"axis":null},"x2":{"datum":7.73},"y":{"datum":694,"axis":null},"y2":{"datum":648}}},
{"data":{"values":[{}]},"mark":{"type":"rect","stroke":"black","strokeWidth":1,"fill":{"gradient":"linear","x1":0,"y1":1,"x2":1.2063,"y2":0.534,"stops":[
{"offset":0.058,"color":"transparent"},{"offset":0.07,"color":"black"},{"offset":0.082,"color":"transparent"},
{"offset":0.203,"color":"transparent"},{"offset":0.215,"color":"black"},{"offset":0.227,"color":"transparent"},
{"offset":0.348,"color":"transparent"},{"offset":0.36,"color":"black"},{"offset":0.372,"color":"transparent"},
{"offset":0.493,"color":"transparent"},{"offset":0.505,"color":"black"},{"offset":0.517,"color":"transparent"},
{"offset":0.638,"color":"transparent"},{"offset":0.65,"color":"black"},{"offset":0.662,"color":"transparent"},
{"offset":0.783,"color":"transparent"},{"offset":0.795,"color":"black"},{"offset":0.807,"color":"transparent"},
{"offset":0.928,"color":"transparent"},{"offset":0.94,"color":"black"},{"offset":0.952,"color":"transparent"}
]}},"encoding":{"x":{"datum":5.94,"axis":null},"x2":{"datum":7.73},"y":{"datum":694,"axis":null},"y2":{"datum":648}}},
{"data":{"values":[{}]},"mark":{"type":"text","text":"Capping/Sub-Base Design","font":"Liberation Serif","fontSize":24,"align":"left","baseline":"alphabetic"},"encoding":{"x":{"datum":7.98,"axis":null},"y":{"datum":663.5,"axis":null}}},
{"data":{"values":[{}]},"mark":{"type":"rect","stroke":"black","strokeWidth":1,"fill":{"gradient":"linear","x1":0,"y1":0,"x2":1.2063,"y2":0.466,"stops":[
{"offset":0.038,"color":"transparent"},{"offset":0.05,"color":"black"},{"offset":0.062,"color":"transparent"},
{"offset":0.138,"color":"transparent"},{"offset":0.15,"color":"black"},{"offset":0.162,"color":"transparent"},
{"offset":0.238,"color":"transparent"},{"offset":0.25,"color":"black"},{"offset":0.262,"color":"transparent"},
{"offset":0.338,"color":"transparent"},{"offset":0.35,"color":"black"},{"offset":0.362,"color":"transparent"},
{"offset":0.438,"color":"transparent"},{"offset":0.45,"color":"black"},{"offset":0.462,"color":"transparent"},
{"offset":0.538,"color":"transparent"},{"offset":0.55,"color":"black"},{"offset":0.562,"color":"transparent"},
{"offset":0.638,"color":"transparent"},{"offset":0.65,"color":"black"},{"offset":0.662,"color":"transparent"},
{"offset":0.738,"color":"transparent"},{"offset":0.75,"color":"black"},{"offset":0.762,"color":"transparent"},
{"offset":0.838,"color":"transparent"},{"offset":0.85,"color":"black"},{"offset":0.862,"color":"transparent"},
{"offset":0.938,"color":"transparent"},{"offset":0.95,"color":"black"},{"offset":0.962,"color":"transparent"}
]}},"encoding":{"x":{"datum":5.9,"axis":null},"x2":{"datum":7.69},"y":{"datum":530,"axis":null},"y2":{"datum":484}}},
{"data":{"values":[{}]},"mark":{"type":"text","text":"Sub-base only Design for","font":"Liberation Serif","fontSize":24,"align":"left","baseline":"alphabetic"},"encoding":{"x":{"datum":7.9,"axis":null},"y":{"datum":521.1,"axis":null}}},
{"data":{"values":[{}]},"mark":{"type":"text","text":"flexible and flexible","font":"Liberation Serif","fontSize":24,"align":"left","baseline":"alphabetic"},"encoding":{"x":{"datum":7.9,"axis":null},"y":{"datum":486.6,"axis":null}}},
{"data":{"values":[{}]},"mark":{"type":"text","text":"composite","font":"Liberation Serif","fontSize":24,"align":"left","baseline":"alphabetic"},"encoding":{"x":{"datum":7.9,"axis":null},"y":{"datum":452,"axis":null}}},
{"data":{"values":[{}]},"mark":{"type":"text","text":"pavements,capping not","font":"Liberation Serif","fontSize":24,"align":"left","baseline":"alphabetic"},"encoding":{"x":{"datum":7.9,"axis":null},"y":{"datum":417.4,"axis":null}}},
{"data":{"values":[{}]},"mark":{"type":"text","text":"required","font":"Liberation Serif","fontSize":24,"align":"left","baseline":"alphabetic"},"encoding":{"x":{"datum":7.9,"axis":null},"y":{"datum":382.8,"axis":null}}},
{"data":{"values":[{}]},"mark":{"type":"rule","color":"#1a1a1a","strokeWidth":1},"encoding":{"x":{"datum":1,"axis":null},"y":{"datum":0,"axis":null},"y2":{"datum":1360}}}
]
}
],
"resolve":{"scale":{"y":"independent"}}
}
